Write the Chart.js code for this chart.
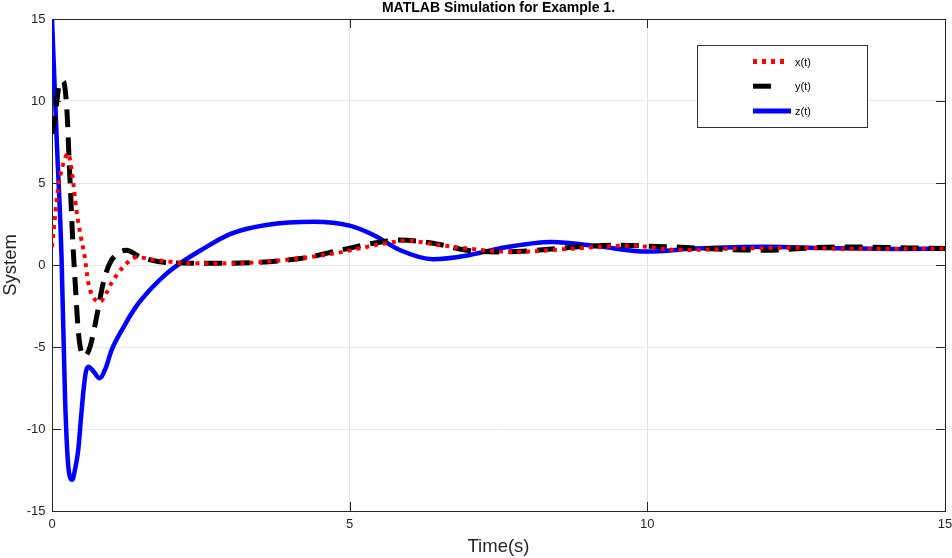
<!DOCTYPE html>
<html>
<head>
<meta charset="utf-8">
<script src="https://cdn.jsdelivr.net/npm/chart.js@4.4.1/dist/chart.umd.min.js"></script>
<style>
  body { margin: 0; background: #fff; }
  #wrap { width: 952px; height: 558px; }
</style>
</head>
<body>
<div id="wrap"><canvas id="c"></canvas></div>
<script>
// values
var tX = [0, 0.05, 0.1, 0.19, 0.27, 0.34, 0.41, 0.48, 0.55, 0.61, 0.7, 0.81, 0.9, 1.0, 1.2, 1.42, 1.76, 2.32, 3.0, 3.9, 4.73, 5.57, 5.96, 6.5, 7.25, 7.75, 8.87, 9.7, 10.55, 11.5, 12.5, 13.5, 15];
var xVals = [1.1, 2.9, 4.6, 6.2, 6.8, 5.5, 3.35, 1.8, 0.5, -1.1, -2.0, -2.24, -1.8, -1.1, -0.1, 0.47, 0.3, 0.1, 0.1, 0.3, 0.7, 1.3, 1.48, 1.22, 0.9, 0.8, 1.03, 1.18, 0.91, 1.0, 1.05, 0.97, 1.0];

var tY = [0, 0.05, 0.13, 0.19, 0.25, 0.29, 0.32, 0.35, 0.39, 0.44, 0.5, 0.55, 0.64, 0.75, 0.86, 0.97, 1.1, 1.25, 1.48, 1.93, 2.88, 4.17, 4.84, 5.4, 5.85, 6.4, 6.97, 7.53, 9.43, 10.27, 11.95, 13.2, 15];
var yVals = [8.0, 9.0, 11.1, 11.2, 9.45, 6.2, 3.8, 1.35, -1.1, -3.96, -5.4, -5.55, -4.98, -3.15, -1.1, 0.1, 0.7, 0.9, 0.5, 0.15, 0.1, 0.4, 0.9, 1.33, 1.52, 1.33, 0.9, 0.8, 1.2, 1.12, 0.9, 1.1, 1.0];

var tZ = [0, 0.08, 0.16, 0.22, 0.28, 0.34, 0.39, 0.44, 0.49, 0.53, 0.57, 0.61, 0.7, 0.8, 0.9, 1.0, 1.2, 1.4, 1.65, 1.9, 2.15, 2.5, 3.0, 3.6, 4.4, 5.0, 5.4, 5.85, 6.4, 7.0, 7.5, 8.4, 9.2, 10.0, 10.8, 12.0, 13.0, 14.2, 15];
var zVals = [15, 7.6, 0.5, -8.2, -12.5, -13.1, -12.4, -11.3, -9.2, -7.6, -6.5, -6.2, -6.5, -6.9, -6.3, -5.2, -3.8, -2.6, -1.5, -0.6, 0.1, 0.9, 1.9, 2.44, 2.64, 2.4, 1.83, 0.9, 0.35, 0.6, 1.0, 1.4, 1.12, 0.82, 1.0, 1.12, 1.03, 0.98, 1.0];

var seriesNames = ['x(t)', 'y(t)', 'z(t)'];
var xTicks = [0, 5, 10, 15];
var yTicks = [-15, -10, -5, 0, 5, 10, 15];

function pts(ts, vs) {
  return ts.map(function (t, i) { return { x: t, y: vs[i] }; });
}

var FONT = '"Liberation Sans", Arial, Helvetica, sans-serif';
var AX = '#262626';

// box, inward ticks and the legend, MATLAB style
var matlabBits = {
  id: 'matlabBits',
  beforeDatasetsDraw: function (chart) {
    var a = chart.chartArea, ctx = chart.ctx;
    var xs = chart.scales.x, ys = chart.scales.y;
    ctx.save();
    ctx.strokeStyle = AX;
    ctx.lineWidth = 1;
    ctx.beginPath();
    xTicks.forEach(function (v) {
      var p = Math.round(xs.getPixelForValue(v)) + 0.5;
      ctx.moveTo(p, a.bottom); ctx.lineTo(p, a.bottom - 9);
      ctx.moveTo(p, a.top); ctx.lineTo(p, a.top + 9);
    });
    yTicks.forEach(function (v) {
      var p = Math.round(ys.getPixelForValue(v)) + 0.5;
      ctx.moveTo(a.left, p); ctx.lineTo(a.left + 9, p);
      ctx.moveTo(a.right, p); ctx.lineTo(a.right - 9, p);
    });
    ctx.stroke();
    ctx.strokeRect(Math.round(a.left) + 0.5, Math.round(a.top) + 0.5,
      Math.round(a.right - a.left), Math.round(a.bottom - a.top));
    ctx.restore();
  },
  afterDraw: function (chart) {
    var a = chart.chartArea, ctx = chart.ctx;
    var bx = a.right - 248, by = a.top + 26, bw = 170, bh = 82;
    ctx.save();
    ctx.fillStyle = '#fff';
    ctx.fillRect(bx, by, bw, bh);
    ctx.strokeStyle = '#333';
    ctx.lineWidth = 1;
    ctx.strokeRect(bx + 0.5, by + 0.5, bw, bh);
    var ds = chart.data.datasets;
    var lens = [36, 20, 38];
    ctx.font = '11px ' + FONT;
    ctx.textBaseline = 'middle';
    ctx.fillStyle = '#000';
    for (var i = 0; i < ds.length; i++) {
      var yy = by + 16.5 + i * 24.7;
      ctx.beginPath();
      ctx.strokeStyle = ds[i].borderColor;
      ctx.lineWidth = 5;
      ctx.setLineDash(ds[i].borderDash || []);
      ctx.moveTo(bx + 56, yy);
      ctx.lineTo(bx + 56 + lens[i], yy);
      ctx.stroke();
      ctx.setLineDash([]);
      ctx.fillText(ds[i].label, bx + 98, yy + 1);
    }
    ctx.restore();
  }
};

new Chart(document.getElementById('c'), {
  type: 'line',
  data: {
    datasets: [{
      label: seriesNames[0],
      data: pts(tX, xVals),
      borderColor: '#ff0000',
      borderWidth: 4,
      borderDash: [4, 5],
      cubicInterpolationMode: 'monotone'
    }, {
      label: seriesNames[1],
      data: pts(tY, yVals),
      borderColor: '#000000',
      borderWidth: 5,
      borderDash: [18, 10],
      cubicInterpolationMode: 'monotone'
    }, {
      label: seriesNames[2],
      data: pts(tZ, zVals),
      borderColor: '#0000ff',
      borderWidth: 4.5,
      cubicInterpolationMode: 'monotone'
    }]
  },
  options: {
    responsive: true,
    maintainAspectRatio: false,
    animation: false,
    events: [],
    elements: { point: { radius: 0 } },
    layout: { padding: { left: 0, right: 7, top: 0, bottom: 0 } },
    plugins: {
      legend: { display: false },
      tooltip: { enabled: false },
      title: {
        display: true,
        text: 'MATLAB Simulation for Example 1.',
        fullSize: false,
        color: '#000',
        font: { family: FONT, size: 14, weight: 'bold' },
        padding: { top: 0, bottom: 2.2 }
      }
    },
    scales: {
      x: {
        type: 'linear',
        min: 0, max: 15,
        afterFit: function (s) { s.height = 47; s.paddingLeft = 0; s.paddingRight = 0; },
        afterBuildTicks: function (s) { s.ticks = xTicks.map(function (v) { return { value: v }; }); },
        grid: { color: '#e2e2e2', drawTicks: false },
        border: { display: false },
        ticks: { color: AX, padding: 6, maxRotation: 0, font: { family: FONT, size: 13 } },
        title: { display: true, text: 'Time(s)', color: AX, padding: { top: 0, bottom: 0 }, font: { family: FONT, size: 18.5 } }
      },
      y: {
        min: -15, max: 15,
        afterFit: function (s) { s.width = 52; s.paddingTop = 0; s.paddingBottom = 0; },
        afterBuildTicks: function (s) { s.ticks = yTicks.map(function (v) { return { value: v }; }); },
        grid: { color: '#e8e8e8', drawTicks: false },
        border: { display: false },
        ticks: { color: AX, padding: 6.5, font: { family: FONT, size: 13 } },
        title: { display: true, text: 'System', color: AX, padding: { top: 0, bottom: 0 }, font: { family: FONT, size: 18.5 } }
      }
    }
  },
  plugins: [matlabBits]
});
</script>
</body>
</html>
